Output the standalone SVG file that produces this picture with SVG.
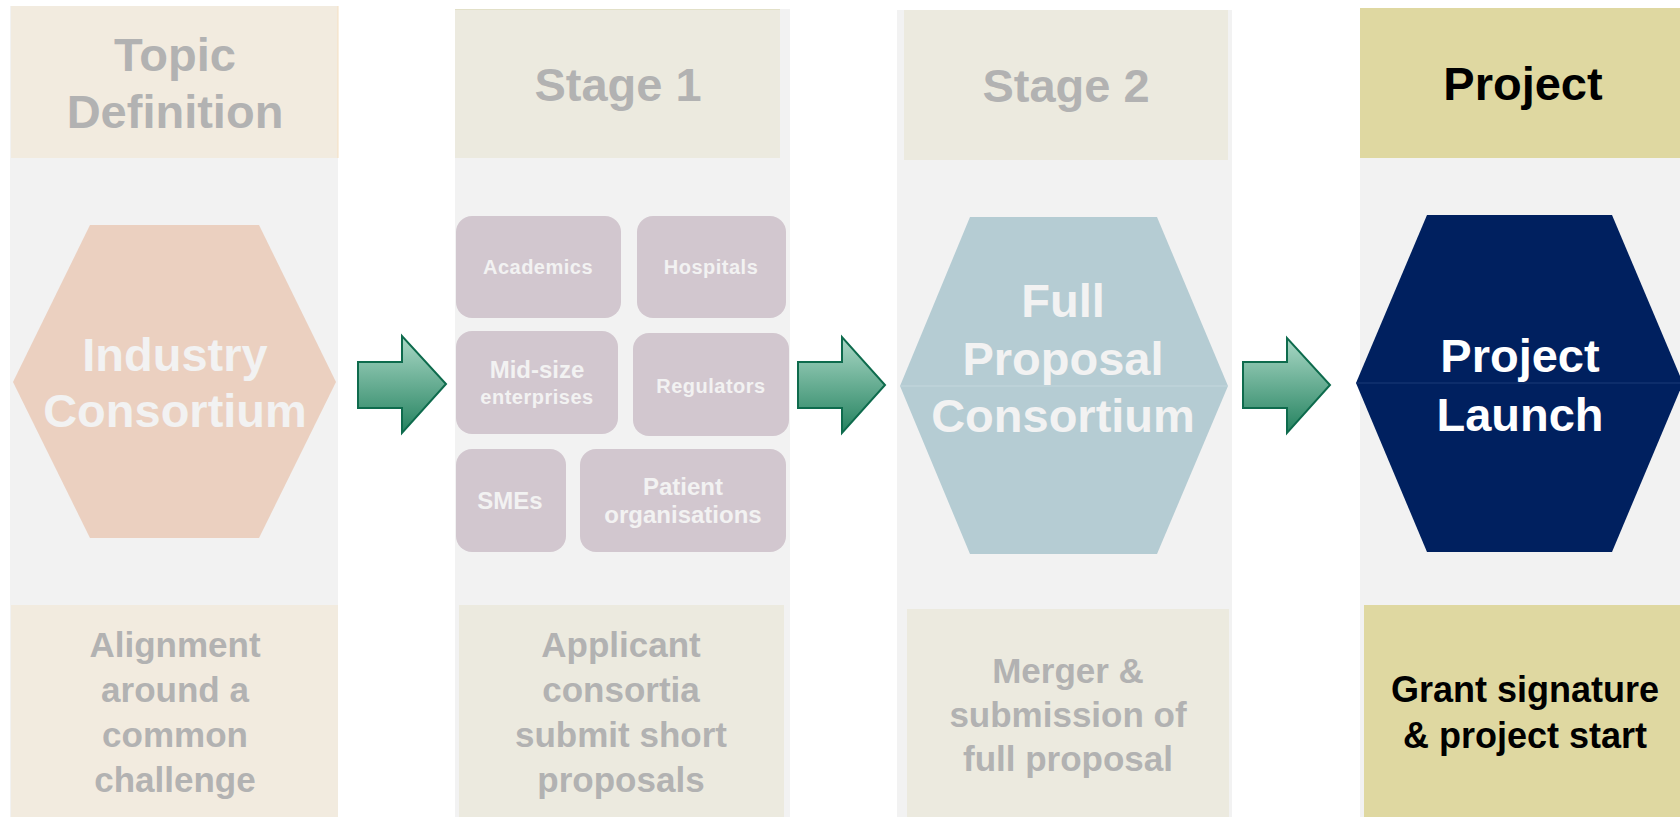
<svg xmlns="http://www.w3.org/2000/svg" width="1680" height="817" viewBox="0 0 1680 817">
<defs>
<linearGradient id="ag" x1="0" y1="0" x2="0" y2="1">
<stop offset="0" stop-color="#AAD8C6"/>
<stop offset="1" stop-color="#24825F"/>
</linearGradient>
<style>
text{font-family:"Liberation Sans",Arial,sans-serif;font-weight:bold;text-anchor:middle}
.hd{font-size:47px;fill:#B2B2B2}
.hx{font-size:47px;fill:#F2F2F2}
.ft{font-size:35px;fill:#B2B2B2}
.bx{fill:#D2C7CF}
.bt{fill:#F2F2F2;font-size:20px;letter-spacing:0.5px}
.bt2{fill:#F2F2F2;font-size:24px}
.arr{fill:url(#ag);stroke:#0E6B4D;stroke-width:2}
</style>
</defs>
<rect width="1680" height="817" fill="#FFFFFF"/>

<g id="col1">
<rect x="10" y="6" width="328" height="811" fill="#F2F2F2"/>
<rect x="11" y="6" width="327" height="152" fill="#F2EBDF"/>
<line x1="338" y1="6" x2="338" y2="158" stroke="#F6DFC0" stroke-width="1"/>
<text class="hd" x="175" y="71">Topic</text>
<text class="hd" x="175" y="128">Definition</text>
<polygon points="90,225 259,225 336,382 259,538 90,538 13,382" fill="#EBD0C0"/>
<text class="hx" x="175" y="371">Industry</text>
<text class="hx" x="175" y="427">Consortium</text>
<rect x="11" y="605" width="327" height="212" fill="#F2EBDF"/>
<text class="ft" x="175" y="657">Alignment</text>
<text class="ft" x="175" y="702">around a</text>
<text class="ft" x="175" y="747">common</text>
<text class="ft" x="175" y="792">challenge</text>
</g>

<g id="col2">
<rect x="455" y="9" width="335" height="808" fill="#F2F2F2"/>
<rect x="455" y="9" width="325" height="149" fill="#ECEADF"/>
<line x1="455" y1="9.5" x2="780" y2="9.5" stroke="#E2E0C8" stroke-width="1"/>
<text class="hd" x="618" y="101">Stage 1</text>
<rect x="459" y="605" width="325" height="212" fill="#ECEADF"/>
<text class="ft" x="621" y="657">Applicant</text>
<text class="ft" x="621" y="702">consortia</text>
<text class="ft" x="621" y="747">submit short</text>
<text class="ft" x="621" y="792">proposals</text>
</g>

<g id="academics"><rect class="bx" x="456" y="216" width="165" height="102" rx="16"/><text class="bt" x="538" y="274">Academics</text></g>
<g id="hospitals"><rect class="bx" x="637" y="216" width="149" height="102" rx="16"/><text class="bt" x="711" y="274">Hospitals</text></g>
<g id="midsize"><rect class="bx" x="456" y="331" width="162" height="103" rx="16"/><text class="bt2" x="537" y="378">Mid-size</text><text class="bt" x="537" y="404">enterprises</text></g>
<g id="regulators"><rect class="bx" x="633" y="333" width="156" height="103" rx="16"/><text class="bt" x="711" y="393">Regulators</text></g>
<g id="smes"><rect class="bx" x="456" y="449" width="110" height="103" rx="16"/><text class="bt2" x="510" y="509">SMEs</text></g>
<g id="patient"><rect class="bx" x="580" y="449" width="206" height="103" rx="16"/><text class="bt2" x="683" y="495">Patient</text><text class="bt2" x="683" y="523">organisations</text></g>

<g id="col3">
<rect x="897" y="10" width="335" height="807" fill="#F2F2F2"/>
<rect x="904" y="10" width="324" height="150" fill="#ECEADF"/>
<text class="hd" x="1066" y="102">Stage 2</text>
<polygon points="970,217 1157,217 1228,386 1157,554 970,554 900,386" fill="#B5CCD3"/>
<line x1="900" y1="386" x2="1228" y2="386" stroke="#C4D7DD" stroke-width="1"/>
<text class="hx" x="1063" y="317">Full</text>
<text class="hx" x="1063" y="375">Proposal</text>
<text class="hx" x="1063" y="432">Consortium</text>
<rect x="907" y="609" width="322" height="208" fill="#ECEADF"/>
<text class="ft" x="1068" y="683">Merger &amp;</text>
<text class="ft" x="1068" y="727">submission of</text>
<text class="ft" x="1068" y="771">full proposal</text>
</g>

<g id="col4">
<rect x="1360" y="8" width="320" height="809" fill="#F2F2F2"/>
<rect x="1360" y="8" width="320" height="150" fill="#DFD8A1"/>
<text x="1523" y="100" style="font-size:47px;fill:#000000">Project</text>
<polygon points="1427,215 1612,215 1683,383 1612,552 1427,552 1356,383" fill="#00205F"/>
<line x1="1356" y1="383" x2="1683" y2="383" stroke="#1B3A78" stroke-width="1"/>
<text x="1520" y="372" style="font-size:47px;fill:#FFFFFF">Project</text>
<text x="1520" y="431" style="font-size:47px;fill:#FFFFFF">Launch</text>
<rect x="1364" y="605" width="316" height="212" fill="#DFD8A1"/>
<text x="1525" y="702" style="font-size:36px;fill:#000000">Grant signature</text>
<text x="1525" y="748" style="font-size:36px;fill:#000000">&amp; project start</text>
</g>

<g id="connectors">
<polygon class="arr" points="358,362 402,362 402,336 446,384 402,433 402,408 358,408"/>
<polygon class="arr" points="798,362 842,362 842,337 885,385 842,433 842,408 798,408"/>
<polygon class="arr" points="1243,362 1287,362 1287,338 1330,385 1287,433 1287,408 1243,408"/>
</g>
</svg>
